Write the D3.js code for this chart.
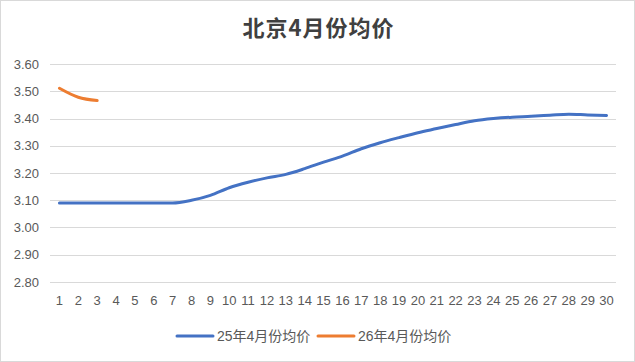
<!DOCTYPE html>
<html>
<head>
<meta charset="utf-8">
<script src="https://cdn.jsdelivr.net/npm/d3@7"></script>
<style>
  body { margin: 0; background: #fff; }
  svg { display: block; font-family: "Liberation Sans", "Noto Sans CJK SC", sans-serif; }
</style>
</head>
<body>
<div id="chart"></div>
<script>
// data
const days = d3.range(1, 31).map(String);
const price25 = [3.09, 3.09, 3.09, 3.09, 3.09, 3.09, 3.09, 3.10, 3.118, 3.146,
                 3.166, 3.182, 3.195, 3.216, 3.240, 3.262, 3.289, 3.311, 3.330, 3.348,
                 3.363, 3.378, 3.392, 3.400, 3.405, 3.408, 3.412, 3.416, 3.413, 3.411];
const price26 = [3.511, 3.478, 3.466];
const yTicks = [2.8, 2.9, 3.0, 3.1, 3.2, 3.3, 3.4, 3.5, 3.6];
const seriesNames = ["25年4月份均价", "26年4月份均价"];
const colors = ["#4472C4", "#ED7D31"];

const width = 635, height = 362;
const margin = {top: 64, right: 19, bottom: 80, left: 50};

const svg = d3.select("#chart").append("svg")
    .attr("width", width)
    .attr("height", height);

// chart border
svg.append("rect")
    .attr("x", 0.5).attr("y", 0.5)
    .attr("width", width - 1).attr("height", height - 1)
    .attr("fill", "#fff")
    .attr("stroke", "#d9d9d9");

const x = d3.scaleBand()
    .domain(days)
    .range([margin.left, width - margin.right]);

const y = d3.scaleLinear()
    .domain([2.8, 3.6])
    .range([height - margin.bottom, margin.top]);

// gridlines
svg.append("g")
    .selectAll("line")
    .data(yTicks)
    .join("line")
    .attr("x1", margin.left)
    .attr("x2", width - margin.right)
    .attr("y1", d => Math.round(y(d)) + 0.5)
    .attr("y2", d => Math.round(y(d)) + 0.5)
    .attr("stroke", "#d9d9d9");

// y axis labels
svg.append("g")
    .selectAll("text")
    .data(yTicks)
    .join("text")
    .attr("x", 39)
    .attr("y", d => y(d))
    .attr("dy", "0.35em")
    .attr("text-anchor", "end")
    .attr("font-size", 13)
    .attr("fill", "#595959")
    .text(d => d.toFixed(2));

// x axis labels
svg.append("g")
    .selectAll("text")
    .data(days)
    .join("text")
    .attr("x", d => x(d) + x.bandwidth() / 2)
    .attr("y", height - margin.bottom + 23)
    .attr("text-anchor", "middle")
    .attr("font-size", 13)
    .attr("fill", "#595959")
    .text(d => d);

const line = d3.line()
    .x((d, i) => x(days[i]) + x.bandwidth() / 2)
    .y(d => y(d))
    .curve(d3.curveMonotoneX);

[price25, price26].forEach((vals, i) => {
    svg.append("path")
        .datum(vals)
        .attr("fill", "none")
        .attr("stroke", colors[i])
        .attr("stroke-width", 3)
        .attr("stroke-linecap", "round")
        .attr("stroke-linejoin", "round")
        .attr("d", line);
});

// title
svg.append("text")
    .attr("x", width / 2 + 1)
    .attr("y", 36)
    .attr("text-anchor", "middle")
    .attr("font-family", "'Noto Sans CJK SC', sans-serif")
    .attr("font-size", 22)
    .attr("font-weight", "bold")
    .attr("letter-spacing", 1)
    .attr("fill", "#404040")
    .text("北京4月份均价");

// legend
const legendX = [177, 318];
const legend = svg.append("g")
    .selectAll("g")
    .data(seriesNames)
    .join("g")
    .attr("transform", (d, i) => `translate(${legendX[i]},336)`);

legend.append("line")
    .attr("x1", 0).attr("x2", 36)
    .attr("stroke", (d, i) => colors[i])
    .attr("stroke-width", 3)
    .attr("stroke-linecap", "round");

legend.append("text")
    .attr("x", 40)
    .attr("dy", "0.36em")
    .attr("font-family", "'Liberation Sans', 'Noto Sans CJK SC', sans-serif")
    .attr("font-size", 14)
    .attr("fill", "#595959")
    .text(d => d);
</script>
</body>
</html>
